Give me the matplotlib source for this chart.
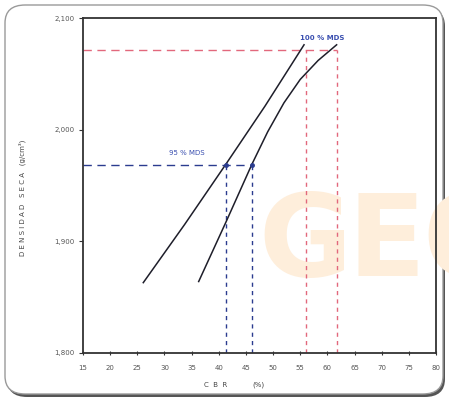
import matplotlib
matplotlib.use("Agg")
import matplotlib.pyplot as plt
from matplotlib.patches import FancyBboxPatch
from matplotlib.ticker import FuncFormatter

# Compaction curves: CBR (%) vs dry density (g/cm3 x 1000)
cbr_curve_a = [26.1, 33.7, 41.3, 48.5, 55.7]
dens_curve_a = [1863, 1915, 1969, 2021, 2076]
cbr_curve_b = [36.3, 41.3, 46.1, 49.0, 52.0, 55.0, 58.3, 61.7]
dens_curve_b = [1864, 1917, 1969, 1998, 2024, 2045, 2062, 2076]

# Reference densities
mds_100 = 2071
mds_95 = 1968
cbr_at_100 = [56.0, 61.7]
cbr_at_95 = [41.3, 46.1]

x_ticks = list(range(15, 81, 5))
y_ticks = [1800, 1900, 2000, 2100]

W, H = 449, 400
fig = plt.figure(figsize=(W / 100, H / 100), dpi=100)
fig.patch.set_facecolor("white")

# rounded frame with shadow
shadow = FancyBboxPatch((7 / W, 3 / H), 438 / W, 389 / H,
                        boxstyle="round,pad=0,rounding_size=0.045",
                        transform=fig.transFigure, facecolor="#555555",
                        edgecolor="none", zorder=0)
frame = FancyBboxPatch((5 / W, 6 / H), 438 / W, 389 / H,
                       boxstyle="round,pad=0,rounding_size=0.045",
                       transform=fig.transFigure, facecolor="white",
                       edgecolor="#9a9a9a", linewidth=1.0, zorder=0.5)
fig.patches.extend([shadow, frame])

# watermark letters
for ch, px in zip("GEO", [258, 348, 422]):
    fig.text(px / W, 1 - 244 / H, ch, color="#feeedb", fontsize=82,
             fontweight="bold", family=["Liberation Sans Narrow", "DejaVu Sans"],
             ha="left", va="center", zorder=0.8)

ax = fig.add_axes([83 / W, 1 - 353 / H, (436 - 83) / W, (353 - 18) / H])
ax.patch.set_alpha(0)
ax.set_zorder(2)

ax.set_xlim(15, 80)
ax.set_ylim(1800, 2100)
ax.set_xticks(x_ticks)
ax.set_yticks(y_ticks)
ax.yaxis.set_major_formatter(FuncFormatter(lambda v, p: f"{int(v):,}"))
ax.tick_params(axis="both", labelsize=5, colors="#333333", length=3,
               width=0.8, labelcolor="#555555")
ax.tick_params(axis="x", direction="inout", pad=7)
ax.tick_params(axis="y", direction="out", pad=3)
for s in ax.spines.values():
    s.set_linewidth(1.3)
    s.set_color("#333333")

red = "#e2687c"
blue = "#2b3c8f"

# reference lines at 100 % MDS
ax.plot([15, cbr_at_100[1]], [mds_100, mds_100], color=red, lw=1.0,
        dashes=(6, 4), zorder=2)
for c in cbr_at_100:
    ax.plot([c, c], [1800, mds_100], color=red, lw=1.0, dashes=(3, 3), zorder=2)

# reference lines at 95 % MDS
ax.plot([15, cbr_at_95[1]], [mds_95, mds_95], color=blue, lw=1.0,
        dashes=(6, 4), zorder=2)
for c in cbr_at_95:
    ax.plot([c, c], [1800, mds_95], color=blue, lw=1.0, dashes=(3, 3), zorder=2)
ax.plot(cbr_at_95, [mds_95, mds_95], "o", color=blue, ms=2.5, zorder=4)

# curves
ax.plot(cbr_curve_a, dens_curve_a, color="#1e1e2a", lw=1.1, zorder=3,
        solid_joinstyle="round")
ax.plot(cbr_curve_b, dens_curve_b, color="#1e1e2a", lw=1.1, zorder=3,
        solid_joinstyle="round")

ax.text(59.1, 2082, "100 % MDS", color="#3a4fb0", fontsize=5,
        fontweight="bold", ha="center", va="center", zorder=5)
ax.text(34.1, 1979, "95 % MDS", color="#3a4fb0", fontsize=5,
        ha="center", va="center", zorder=5)

fig.text(22 / W, 1 - 198 / H, "D E N S I D A D   S E C A   (g/cm³)",
         rotation=90, fontsize=5, color="#444444", ha="center", va="center")
fig.text(216 / W, 1 - 385 / H, "C  B  R", fontsize=5, color="#444444",
         ha="center", va="center")
fig.text(258 / W, 1 - 385 / H, "(%)", fontsize=5, color="#444444",
         ha="center", va="center")

fig.savefig("out.png", dpi=100)
